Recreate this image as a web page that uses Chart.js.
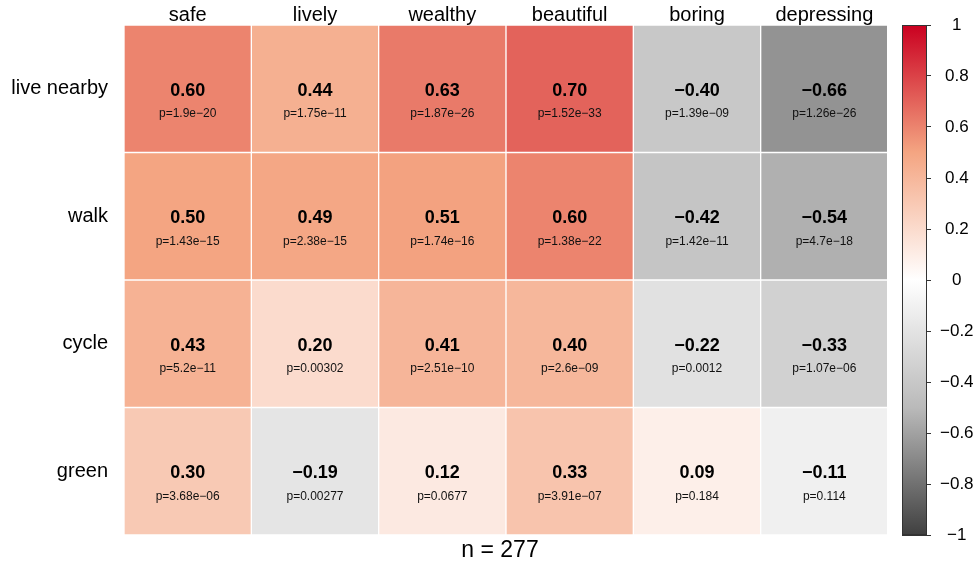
<!DOCTYPE html>
<html>
<head>
<meta charset="utf-8">
<script src="https://cdn.jsdelivr.net/npm/chart.js@4.4.0/dist/chart.umd.min.js"></script>
<style>
  html, body { margin: 0; padding: 0; background: #fff; }
</style>
</head>
<body>
<canvas id="corrChart" width="977" height="563"></canvas>
<script>
const rowLabels = ['live nearby', 'walk', 'cycle', 'green'];
const colLabels = ['safe', 'lively', 'wealthy', 'beautiful', 'boring', 'depressing'];

// correlations, one array per row
const corrLiveNearby = [0.60, 0.44, 0.63, 0.70, -0.40, -0.66];
const corrWalk       = [0.50, 0.49, 0.51, 0.60, -0.42, -0.54];
const corrCycle      = [0.43, 0.20, 0.41, 0.40, -0.22, -0.33];
const corrGreen      = [0.30, -0.19, 0.12, 0.33, 0.09, -0.11];

// p-values as printed
const pLiveNearby = ['1.9e-20', '1.75e-11', '1.87e-26', '1.52e-33', '1.39e-09', '1.26e-26'];
const pWalk       = ['1.43e-15', '2.38e-15', '1.74e-16', '1.38e-22', '1.42e-11', '4.7e-18'];
const pCycle      = ['5.2e-11', '0.00302', '2.51e-10', '2.6e-09', '0.0012', '1.07e-06'];
const pGreen      = ['3.68e-06', '0.00277', '0.0677', '3.91e-07', '0.184', '0.114'];

const nObs = 277;

const corrRows = [corrLiveNearby, corrWalk, corrCycle, corrGreen];
const pRows = [pLiveNearby, pWalk, pCycle, pGreen];

const FONT = '"Liberation Sans", Arial, Helvetica, sans-serif';
Chart.defaults.font.family = FONT;
Chart.defaults.color = '#000';

// RdGy-like ramp: -1 dark grey, 0 white, 1 red
const rampStops = [
  [-1, [64, 64, 64]],
  [-0.5, [186, 186, 186]],
  [0, [255, 255, 255]],
  [0.5, [244, 165, 130]],
  [1, [202, 0, 32]]
];
function corrColor(v) {
  for (let i = 0; i < rampStops.length - 1; i++) {
    const [a, ca] = rampStops[i];
    const [b, cb] = rampStops[i + 1];
    if (v >= a && v <= b) {
      const t = (v - a) / (b - a);
      const c = ca.map((x, k) => Math.round(x + t * (cb[k] - x)));
      return `rgb(${c[0]},${c[1]},${c[2]})`;
    }
  }
  return '#fff';
}

const minus = s => s.replace(/-/g, '\u2212');

// stacked bars: first dataset sits at the bottom, so go from last row up
const datasets = rowLabels.map((name, i) => ({
  label: name,
  data: colLabels.map(() => 1),
  corr: corrRows[i],
  pvals: pRows[i],
  backgroundColor: corrRows[i].map(corrColor),
  borderColor: '#fff',
  borderWidth: 1,
  borderSkipped: false,
  barPercentage: 1,
  categoryPercentage: 1
})).reverse();

const cellText = {
  id: 'cellText',
  afterDatasetsDraw(chart) {
    const ctx = chart.ctx;
    ctx.save();
    ctx.textAlign = 'center';
    ctx.textBaseline = 'alphabetic';
    chart.data.datasets.forEach((ds, di) => {
      chart.getDatasetMeta(di).data.forEach((bar, j) => {
        const p = bar.getProps(['x', 'y', 'base'], true);
        const cy = (p.y + p.base) / 2;
        ctx.fillStyle = '#000';
        ctx.font = 'bold 18px ' + FONT;
        ctx.fillText(minus(ds.corr[j].toFixed(2)), p.x, cy + 7);
        ctx.fillStyle = '#111';
        ctx.font = '12px ' + FONT;
        ctx.fillText('p=' + minus(ds.pvals[j]), p.x, cy + 28.5);
      });
    });
    ctx.restore();
  }
};

const colorBar = {
  id: 'colorBar',
  afterDraw(chart) {
    const ctx = chart.ctx;
    const s = chart.scales.cbar;
    const top = s.getPixelForValue(1);
    const bot = s.getPixelForValue(-1);
    const x0 = s.left + 14, w = 25;
    ctx.save();
    ctx.fillStyle = '#fff';
    ctx.fillRect(s.left - 1, top - 2, 15, bot - top + 4);
    const g = ctx.createLinearGradient(0, top, 0, bot);
    rampStops.forEach(([v, c]) => {
      g.addColorStop((1 - v) / 2, `rgb(${c[0]},${c[1]},${c[2]})`);
    });
    ctx.fillStyle = g;
    ctx.fillRect(x0, top, w, bot - top);
    ctx.strokeStyle = '#333';
    ctx.lineWidth = 1;
    ctx.strokeRect(x0 + 0.5, top + 0.5, w - 1, bot - top - 1);

    // sample size under the grid
    const ca = chart.chartArea;
    ctx.fillStyle = '#000';
    ctx.font = '23px ' + FONT;
    ctx.textAlign = 'center';
    ctx.textBaseline = 'alphabetic';
    ctx.fillText('n = ' + nObs, (ca.left + ca.right) / 2 - 6, 556.5);
    ctx.restore();
  }
};

// vertical axes should not push the plot area down
function noEdgePadding(scale) {
  scale.paddingTop = 0;
  scale.paddingBottom = 0;
}

const ctx = document.getElementById('corrChart').getContext('2d');
const corrChart = new Chart(ctx, {
  type: 'bar',
  data: { labels: colLabels, datasets: datasets },
  options: {
    responsive: false,
    animation: false,
    devicePixelRatio: 1,
    layout: { padding: { top: 0, right: 0, bottom: 28, left: 0 } },
    plugins: {
      legend: { display: false },
      tooltip: { enabled: false }
    },
    scales: {
      x: {
        position: 'top',
        stacked: true,
        grid: { display: false, drawTicks: false },
        border: { display: false },
        ticks: { font: { size: 20 }, color: '#000', padding: -2, maxRotation: 0, autoSkip: false },
        afterFit(scale) { scale.height = 25; }
      },
      y: {
        stacked: true,
        min: 0,
        max: 4,
        display: false
      },
      rows: {
        type: 'category',
        labels: rowLabels,
        position: 'left',
        offset: true,
        grid: { display: false, drawTicks: false },
        border: { display: false },
        ticks: { font: { size: 20 }, color: '#000', padding: 16 },
        afterFit(scale) { scale.width = 124; noEdgePadding(scale); }
      },
      cbar: {
        type: 'linear',
        position: 'right',
        min: -1,
        max: 1,
        grid: { drawOnChartArea: false, tickLength: 43, tickColor: '#333', tickWidth: 1 },
        border: { display: false },
        ticks: {
          stepSize: 0.2,
          font: { size: 17 },
          color: '#000',
          crossAlign: 'center',
          padding: 9,
          callback: v => Math.abs(v) < 1e-9 ? '0' : (v < 0 ? '\u2212' : '') + String(+Math.abs(v).toFixed(1))
        },
        afterFit(scale) { scale.width = 89; noEdgePadding(scale); }
      }
    }
  },
  plugins: [cellText, colorBar]
});
</script>
</body>
</html>
